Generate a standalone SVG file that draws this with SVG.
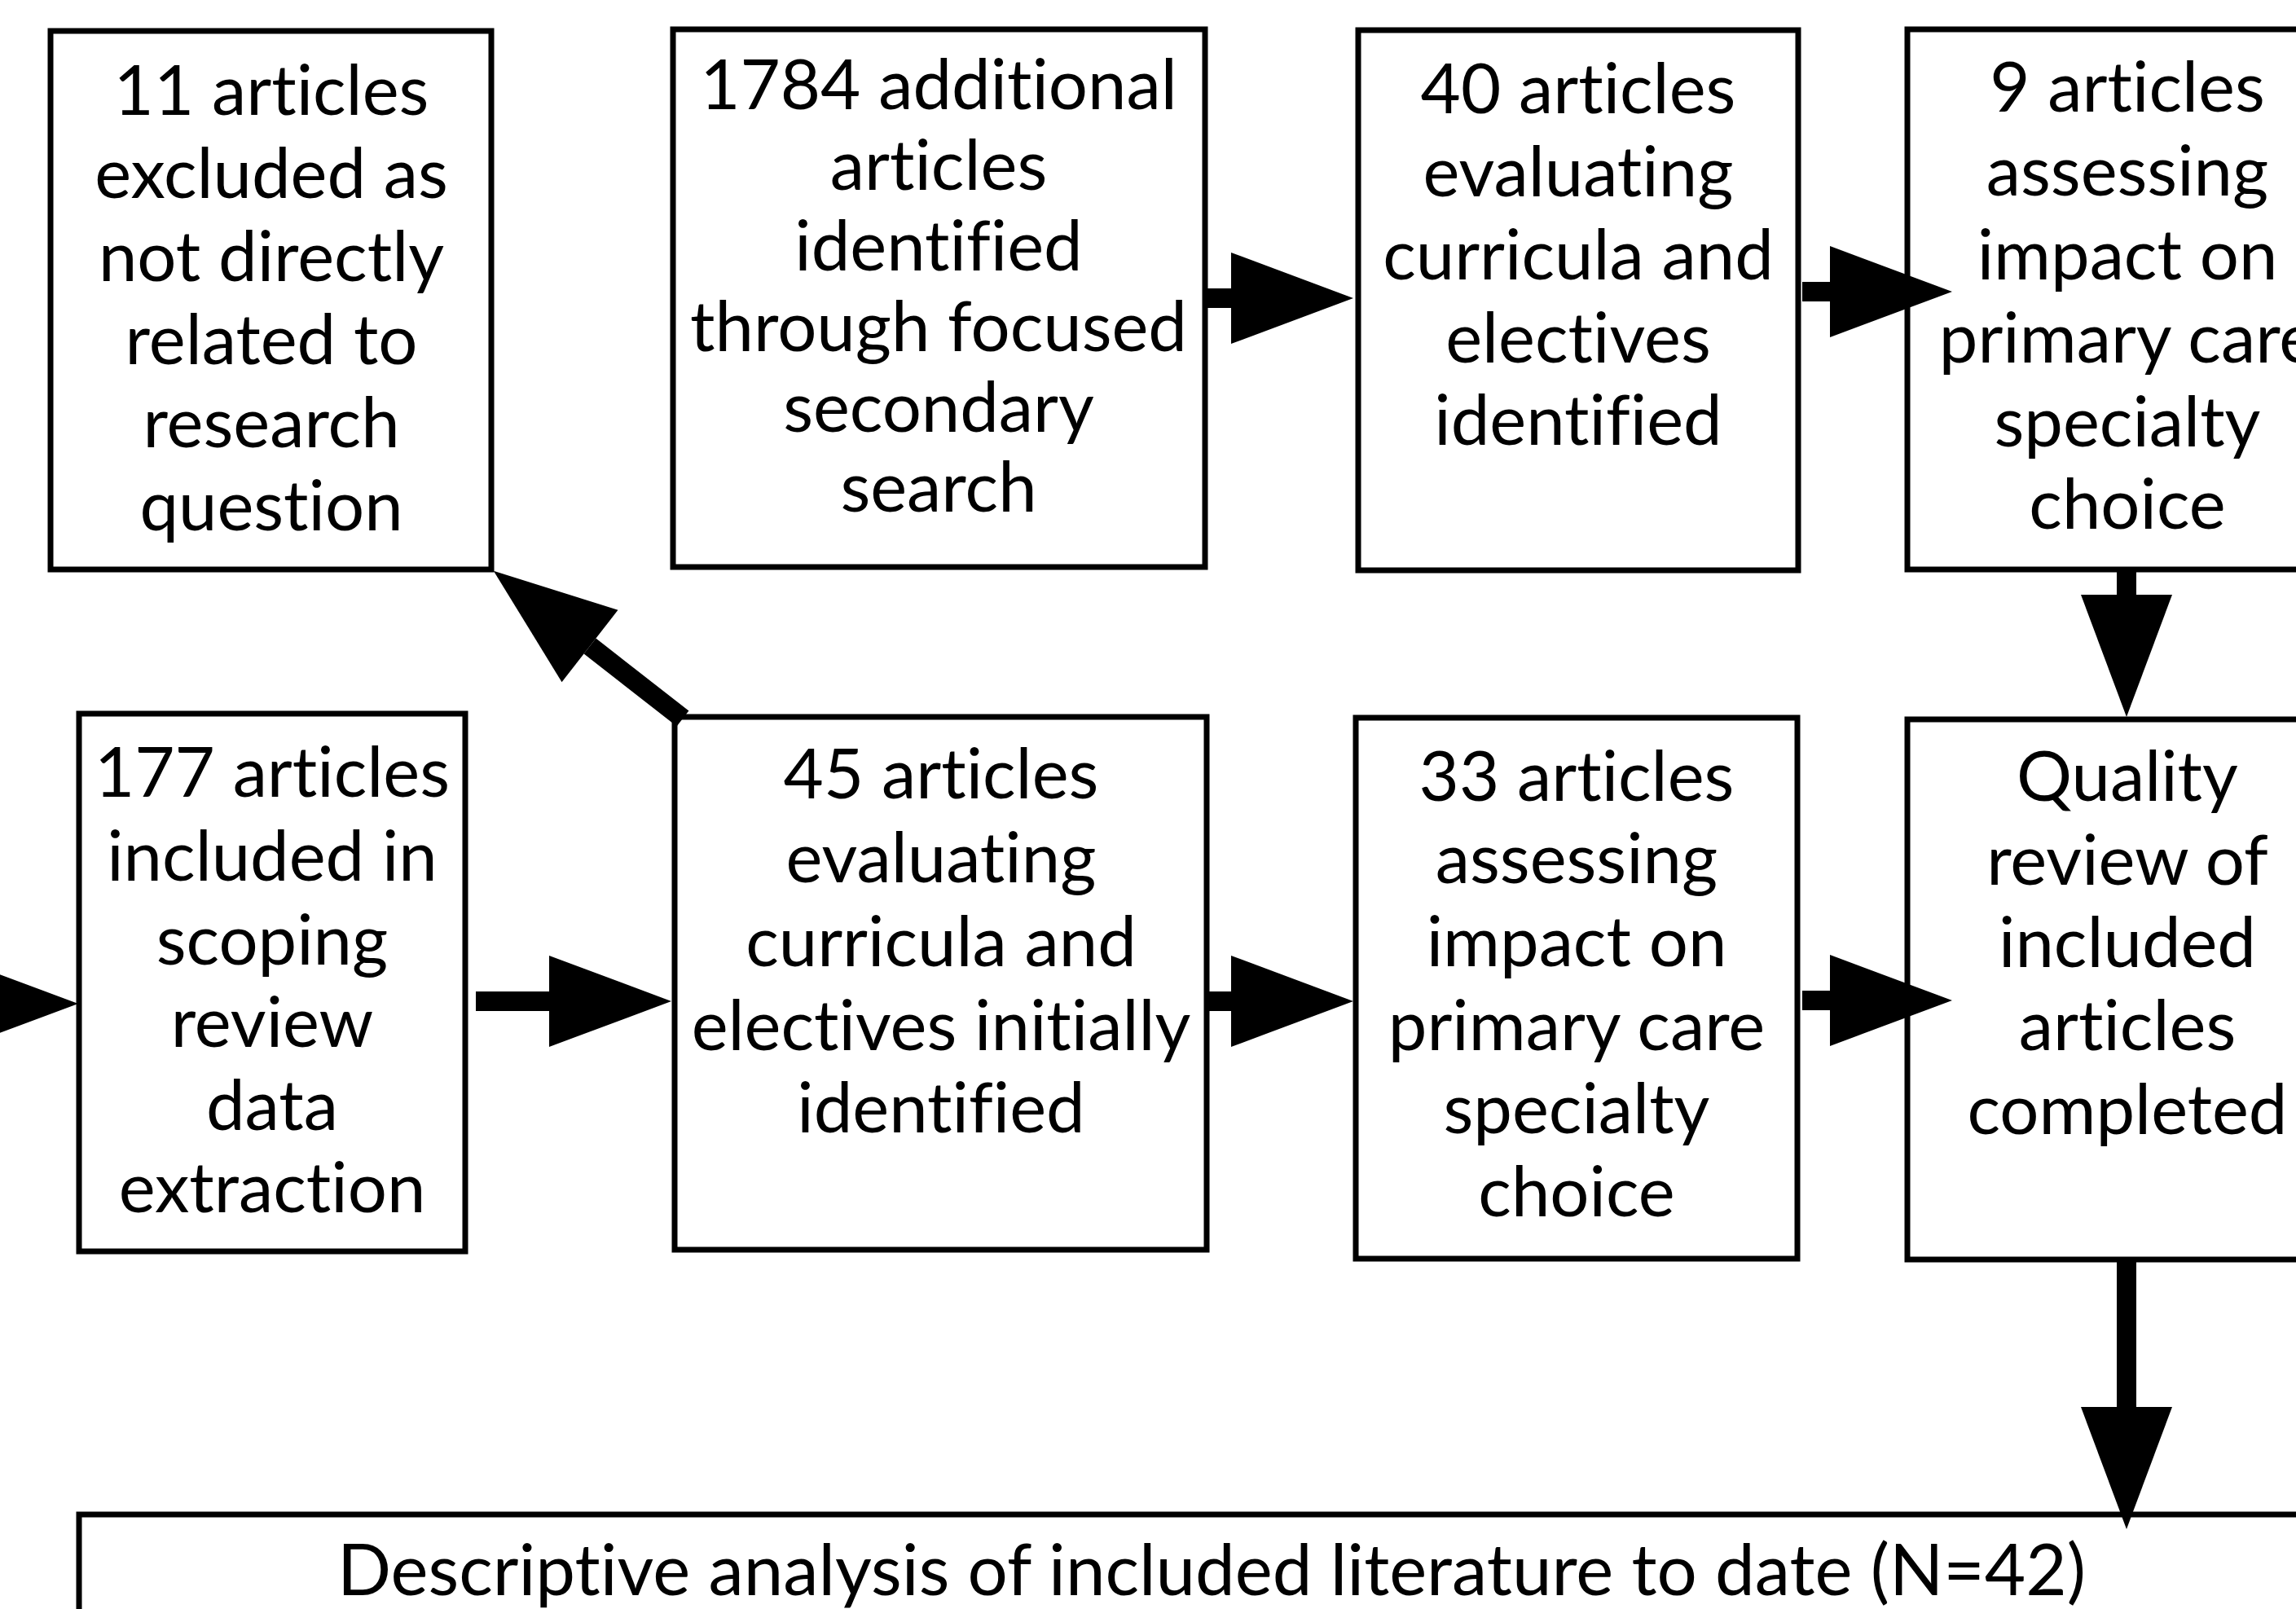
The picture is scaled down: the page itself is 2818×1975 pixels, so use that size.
<svg xmlns="http://www.w3.org/2000/svg" width="2818" height="1975" viewBox="0 0 2818 1975">
<defs>
<style>
.box{fill:#fff;stroke:#000;stroke-width:7;stroke-linejoin:miter}
.t{font-family:Lato,"Liberation Sans",sans-serif;font-size:85px;fill:#000;text-anchor:middle;font-variant-ligatures:none;font-feature-settings:"liga" 0}
.c{stroke:#000;stroke-width:24;fill:none}
</style>
<marker id="ah" markerUnits="userSpaceOnUse" markerWidth="152" markerHeight="114" refX="0" refY="56" orient="auto" overflow="visible">
<path d="M0,0 L150,56 L0,112 Z" fill="#000"/>
</marker>
</defs>
<rect width="2818" height="1975" fill="#fff"/>
<g id="n-excluded">
<rect class="box" x="62" y="38" width="541" height="661"/>
<text class="t"><tspan x="333" y="141">11 articles</tspan><tspan x="333" y="243">excluded as</tspan><tspan x="333" y="345">not directly</tspan><tspan x="333" y="447">related to</tspan><tspan x="333" y="549">research</tspan><tspan x="333" y="651">question</tspan></text>
</g>
<g id="n-additional">
<rect class="box" x="826" y="36" width="653" height="660"/>
<text class="t"><tspan x="1152" y="134">1784 additional</tspan><tspan x="1152" y="233">articles</tspan><tspan x="1152" y="332">identified</tspan><tspan x="1152" y="431">through focused</tspan><tspan x="1152" y="530">secondary</tspan><tspan x="1152" y="628">search</tspan></text>
</g>
<g id="n-40">
<rect class="box" x="1667" y="37" width="540" height="663"/>
<text class="t"><tspan x="1937" y="139">40 articles</tspan><tspan x="1937" y="241">evaluating</tspan><tspan x="1937" y="343">curricula and</tspan><tspan x="1937" y="445">electives</tspan><tspan x="1937" y="546">identified</tspan></text>
</g>
<g id="n-9">
<rect class="box" x="2341" y="36" width="540" height="663"/>
<text class="t"><tspan x="2611" y="137">9 articles</tspan><tspan x="2611" y="240">assessing</tspan><tspan x="2611" y="343">impact on</tspan><tspan x="2611" y="445">primary care</tspan><tspan x="2611" y="548">specialty</tspan><tspan x="2611" y="649">choice</tspan></text>
</g>
<g id="n-177">
<rect class="box" x="97" y="876" width="474" height="660"/>
<text class="t"><tspan x="334" y="978">177 articles</tspan><tspan x="334" y="1081">included in</tspan><tspan x="334" y="1184">scoping</tspan><tspan x="334" y="1285">review</tspan><tspan x="334" y="1387">data</tspan><tspan x="334" y="1488">extraction</tspan></text>
</g>
<g id="n-45">
<rect class="box" x="828" y="880" width="653" height="654"/>
<text class="t"><tspan x="1155" y="980">45 articles</tspan><tspan x="1155" y="1083">evaluating</tspan><tspan x="1155" y="1186">curricula and</tspan><tspan x="1155" y="1289">electives initially</tspan><tspan x="1155" y="1390">identified</tspan></text>
</g>
<g id="n-33">
<rect class="box" x="1664" y="881" width="542" height="664"/>
<text class="t"><tspan x="1935" y="983">33 articles</tspan><tspan x="1935" y="1084">assessing</tspan><tspan x="1935" y="1186">impact on</tspan><tspan x="1935" y="1289">primary care</tspan><tspan x="1935" y="1391">specialty</tspan><tspan x="1935" y="1493">choice</tspan></text>
</g>
<g id="n-quality">
<rect class="box" x="2341" y="883" width="540" height="663"/>
<text class="t"><tspan x="2611" y="983">Quality</tspan><tspan x="2611" y="1086">review of</tspan><tspan x="2611" y="1187">included</tspan><tspan x="2611" y="1289">articles</tspan><tspan x="2611" y="1392">completed</tspan></text>
</g>
<g id="n-descriptive">
<rect class="box" x="97" y="1859" width="2780" height="300"/>
<text class="t" x="1487" y="1958" style="font-size:87px">Descriptive analysis of included literature to date (N=42)</text>
</g>
<g id="connectors">
<line class="c" x1="-300" y1="1232" x2="-54" y2="1232" marker-end="url(#ah)"/>
<line class="c" x1="584" y1="1229" x2="674" y2="1229" marker-end="url(#ah)"/>
<line class="c" x1="838" y1="882" x2="724" y2="793" marker-end="url(#ah)"/>
<line class="c" x1="1481" y1="1229" x2="1511" y2="1229" marker-end="url(#ah)"/>
<line class="c" x1="2212" y1="1228" x2="2246" y2="1228" marker-end="url(#ah)"/>
<line class="c" x1="2610" y1="1546" x2="2610" y2="1727" marker-end="url(#ah)"/>
<line class="c" x1="1479" y1="366" x2="1511" y2="366" marker-end="url(#ah)"/>
<line class="c" x1="2212" y1="358" x2="2246" y2="358" marker-end="url(#ah)"/>
<line class="c" x1="2610" y1="699" x2="2610" y2="730" marker-end="url(#ah)"/>
</g>
</svg>
